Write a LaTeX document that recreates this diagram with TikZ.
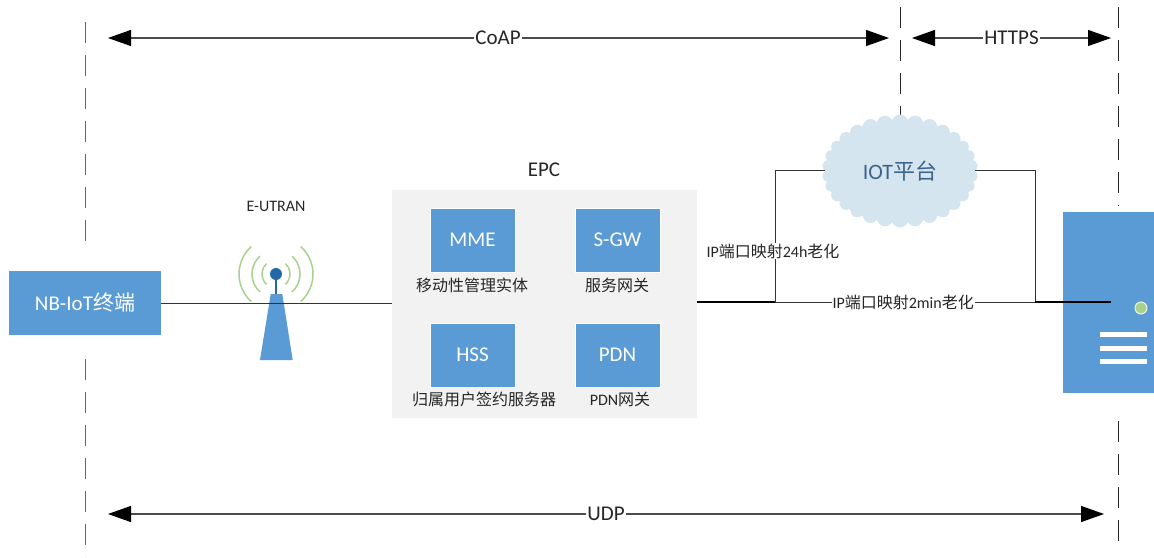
\documentclass[tikz,border=0pt]{standalone}
\usepackage{fontspec}
\setmainfont{Carlito}
\newfontfamily\cjk{Noto Sans CJK SC}
\usetikzlibrary{arrows.meta,shapes.symbols}
\definecolor{blu}{HTML}{5B9BD5}
\definecolor{dblu}{HTML}{2468A8}
\definecolor{grn}{HTML}{A9D18E}
\definecolor{txt}{HTML}{262626}
\tikzset{
  x=1pt,y=-1pt,
  bluebox/.style={draw=white,line width=0.5pt,fill=blu,text=white,minimum width=85pt,minimum height=64pt,inner sep=0pt,font=\fontsize{21}{23}\selectfont},
  capt/.style={text=txt,inner sep=0pt,font=\fontsize{16}{18}\selectfont},
  lab/.style={text=txt,fill=white,inner sep=1pt,font=\fontsize{21}{23}\selectfont},
  smalllab/.style={text=txt,fill=white,inner sep=1pt,font=\fontsize{16}{18}\selectfont},
  link/.style={draw=black!80,line width=1pt},
  heavy/.style={draw=black,line width=1.6pt},
  span/.style={draw=black!70,line width=1.2pt,{Triangle[length=23pt,width=16pt,color=black]}-{Triangle[length=23pt,width=16pt,color=black]}},
  guide/.style={draw=black!85,line width=1pt,dash pattern=on 21pt off 12pt},
  wave/.style={draw=grn,line width=1.5pt},
}
\begin{document}
\begin{tikzpicture}
\useasboundingbox (0,0) rectangle (1154,557);
% guides
\coordinate (g1a) at (85,22); \coordinate (g1b) at (85,252);
\coordinate (g1c) at (85,359); \coordinate (g1d) at (85,557);
\coordinate (g2a) at (900,7); \coordinate (g2b) at (900,118);
\coordinate (g3a) at (1118,7); \coordinate (g3b) at (1118,206);
\coordinate (g4a) at (1118,421); \coordinate (g4b) at (1118,541);
\draw[guide,draw=black!60] (g1a) -- (g1b);
\draw[guide,draw=black!60] (g1c) -- (g1d);
\draw[guide] (g2a) -- (g2b);
\draw[guide] (g3a) -- (g3b);
\draw[guide] (g4a) -- (g4b);
% spans
\coordinate (c1) at (108,38); \coordinate (c2) at (889,38);
\coordinate (h1) at (912,38); \coordinate (h2) at (1111,38);
\coordinate (u1) at (108,514); \coordinate (u2) at (1104,514);
\draw[span] (c1) -- node[lab,pos=0.4995]{CoAP} (c2);
\draw[span] (h1) -- node[lab,pos=0.50]{HTTPS} (h2);
\draw[span] (u1) -- node[lab,pos=0.50]{UDP} (u2);
% tower
\draw[wave] (276,274)++(132:37) arc (132:228:37);
\draw[wave] (276,274)++(132:24) arc (132:228:24);
\draw[wave] (276,274)++(132:14) arc (132:228:14);
\draw[wave] (276,274)++(48:37) arc (48:-48:37);
\draw[wave] (276,274)++(48:24) arc (48:-48:24);
\draw[wave] (276,274)++(48:14) arc (48:-48:14);
\fill[blu] (270.7,294) -- (282.3,294) -- (292.7,360) -- (260,360) -- cycle;
\draw[draw=dblu,line width=2pt] (276,274) -- (276,294);
\fill[dblu] (276,274) circle (6);
% EPC
\node[fill=black!5,minimum width=305pt,minimum height=228pt,inner sep=0pt] (epc) at (544.5,304) {};
\node[bluebox] (mme) at (472.5,240) {MME};
\node[bluebox] (sgw) at (617.5,240) {S-GW};
\node[bluebox] (hss) at (472.5,355) {HSS};
\node[bluebox] (pdn) at (617.5,355) {PDN};
\node[capt] (mmec) at (472,285) {\cjk 移动性管理实体};
\node[capt] (sgwc) at (617,285) {\cjk 服务网关};
\node[capt] (hssc) at (484,399) {\cjk 归属用户签约服务器};
\node[capt] (pdnc) at (620,399) {PDN{\cjk 网关}};
\node[text=txt,inner sep=0pt,font=\fontsize{21}{23}\selectfont] (epcl) at (544,170) {EPC};
\node[text=txt,inner sep=0pt,font=\fontsize{16}{18}\selectfont] (eut) at (276,206) {E-UTRAN};
% terminal
\node[fill=blu,text=white,minimum width=152pt,minimum height=64pt,inner sep=0pt,font=\fontsize{21}{23}\selectfont] (term) at (85,303) {NB-IoT{\cjk 终端}};
% cloud
\node[cloud,cloud puffs=30,cloud puff arc=140,aspect=1.4,fill={rgb,255:red,213;green,229;blue,239},minimum width=156pt,minimum height=113pt,inner sep=0pt,text={rgb,255:red,60;green,100;blue,140},font=\fontsize{22}{24}\selectfont] (iot) at (900,171) {IOT{\cjk 平台}};
% server
\node[fill=blu,minimum width=91pt,minimum height=181pt,inner sep=0pt,anchor=north west] (srv) at (1063,212) {};
\draw[fill=grn,draw=white!80!grn,line width=1pt] (1141,308) circle (6);
\fill[white] (1100,332) rectangle (1147,337);
\fill[white] (1100,345.5) rectangle (1147,350.5);
\fill[white] (1100,359) rectangle (1147,364);
% connectors
\coordinate (j1) at (775,302);
\coordinate (j1t) at (775,170);
\coordinate (j2) at (1035,302);
\coordinate (j2t) at (1035,170);
\coordinate (sp) at (1111,302);
\draw[link] (term.east |- 0,303) -- (epc.west |- 0,303);
\draw[link] (j1) |- (iot.west |- j1t);
\draw[link] (iot.east |- j2t) -| (j2);
\draw[heavy] (epc.east |- j1) -- (j1);
\draw[heavy] (j2) -- (sp);
\node[smalllab] (l24) at (773,251) {IP{\cjk 端口映射}24h{\cjk 老化}};
\draw[link] (j1) -- node[smalllab,pos=0.493]{IP{\cjk 端口映射}2min{\cjk 老化}} (j2);
\end{tikzpicture}
\end{document}
